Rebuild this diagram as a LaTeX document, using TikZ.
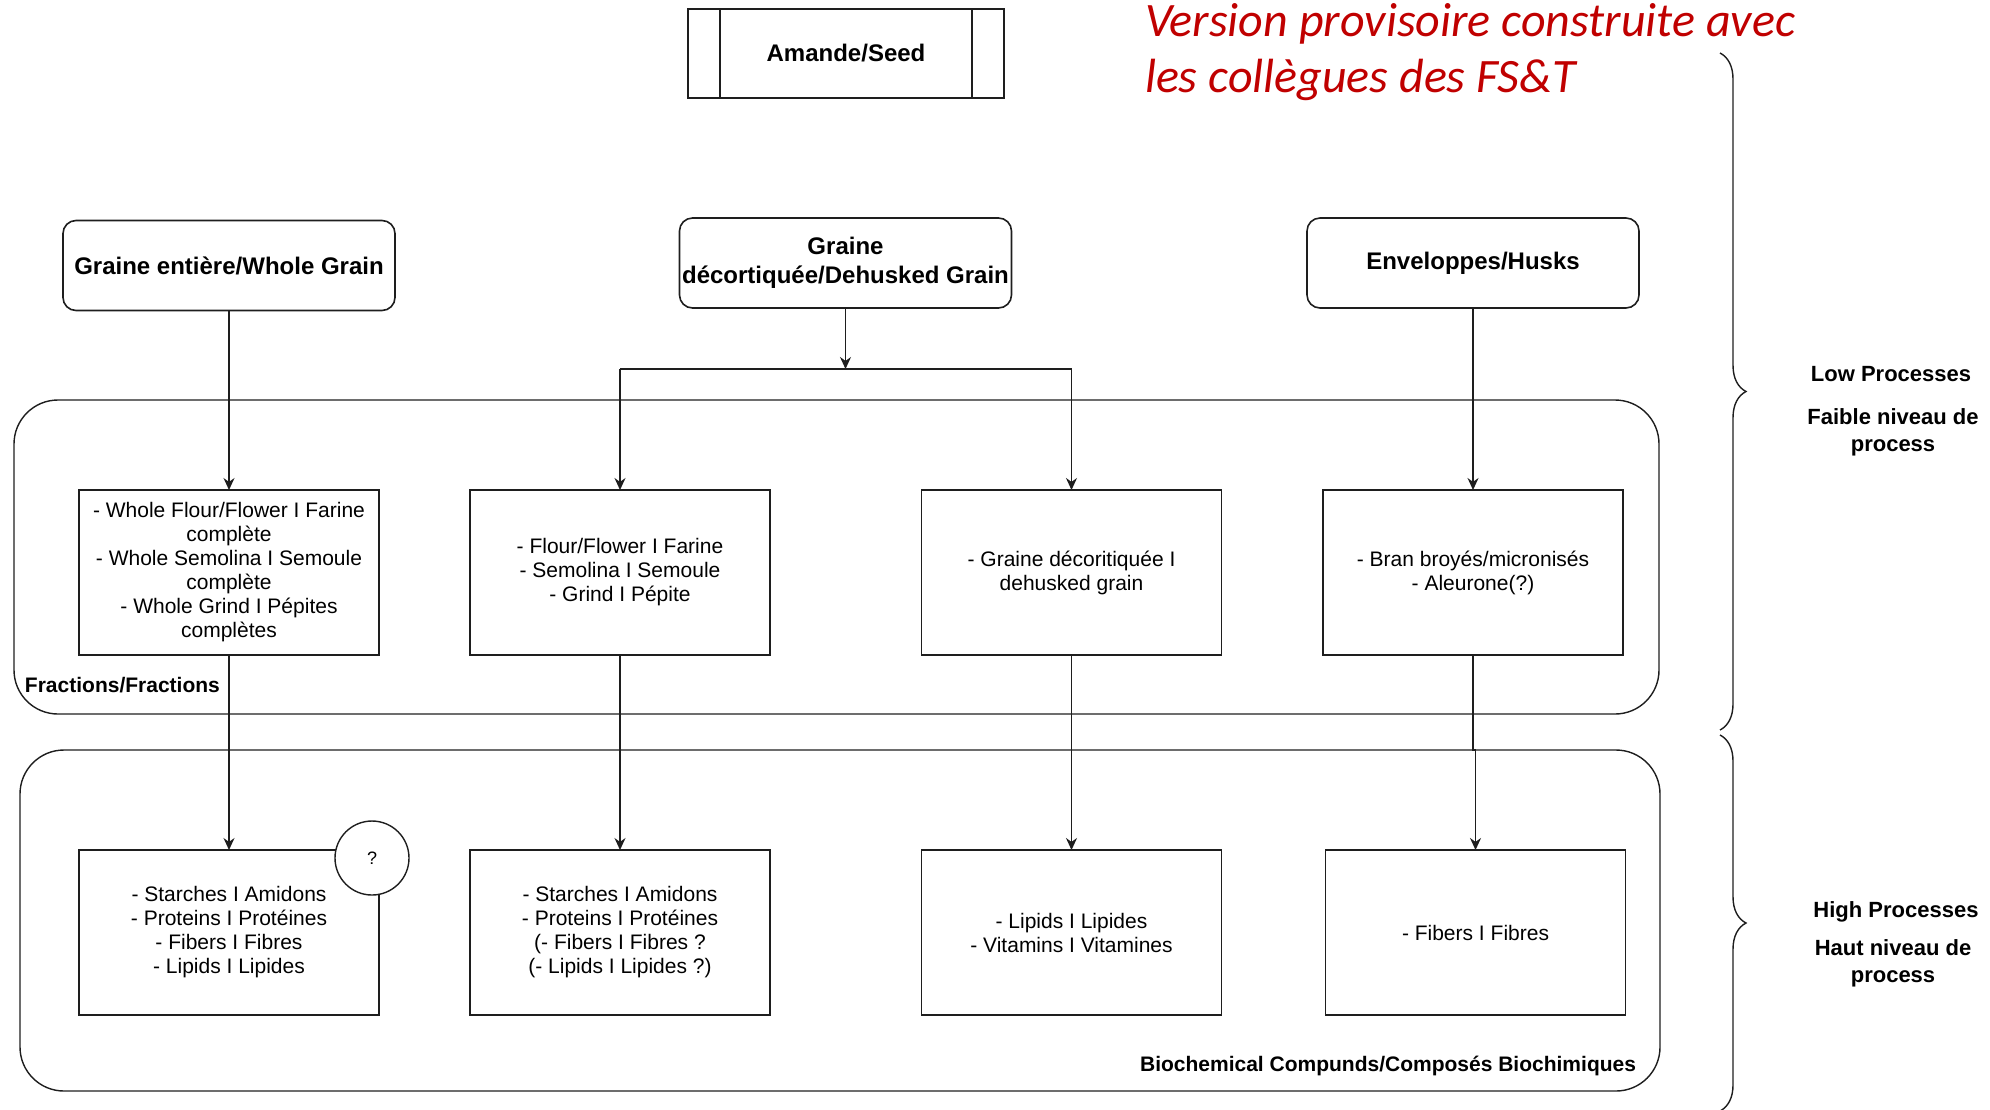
\documentclass[tikz,border=0pt]{standalone}
\usepackage{fontspec}
\setmainfont{Liberation Sans}
\newfontfamily\notefont{Carlito}
\usetikzlibrary{arrows.meta,decorations.pathreplacing}
\definecolor{noteRed}{RGB}{192,0,0}
\definecolor{ink}{RGB}{30,30,30}

\begin{document}
\begin{tikzpicture}[x=0.5pt,y=-0.5pt,
  every node/.style={inner sep=0pt, outer sep=0pt},
  title/.style={draw=ink, line width=0.8pt, rounded corners=6.5pt, minimum width=166pt, minimum height=45pt, align=center, font=\bfseries\fontsize{12}{14.5}\selectfont},
  item/.style={draw=ink, line width=0.7pt, minimum width=150pt, minimum height=82.5pt, align=center, font=\fontsize{10.5}{12}\selectfont},
  zone/.style={draw=ink, line width=0.7pt, rounded corners=22pt},
  arr/.style={draw=ink, line width=0.7pt, -{Stealth[length=6pt,width=5.5pt]}},
  link/.style={draw=ink, line width=0.7pt},
  tag/.style={font=\bfseries\fontsize{10.5}{12}\selectfont},
  side/.style={align=center, font=\bfseries\fontsize{11}{13.5}\selectfont},
  bracket/.style={draw=ink, line width=0.7pt, decorate, decoration={brace, amplitude=13pt}},
  note/.style={anchor=base west, text=noteRed, font=\notefont\itshape\fontsize{24}{27.5}\selectfont},
]
\clip (0,0) rectangle (1990,1109);

% level frames
\node[zone, minimum width=822.5pt, minimum height=157pt] (frac) at (836.5,557) {};
\node[zone, minimum width=820pt, minimum height=170.5pt] (bio) at (840,920.5) {};
\node[tag, anchor=west] (fractag) at (25,685) {Fractions/Fractions};
\node[tag, anchor=east] (biotag) at (1636,1066) {Biochemical Compunds/Composés Biochimiques};

% source
\node[draw=ink, line width=0.8pt, minimum width=158pt, minimum height=44.5pt, font=\bfseries\fontsize{12}{14}\selectfont] (seed) at (846,53.5) {Amande/Seed};
\draw[ink, line width=0.8pt] ([xshift=16pt]seed.north west) -- ([xshift=16pt]seed.south west);
\draw[ink, line width=0.8pt] ([xshift=-16pt]seed.north east) -- ([xshift=-16pt]seed.south east);

\node[note] (note1) at (1145,36) {Version provisoire construite avec};
\node[note] (note2) at (1145,92) {les collègues des FS\&T};

% grain types
\node[title] (whole) at (229,265.5) {Graine entière/Whole Grain};
\node[title] (dehusk) at (845.5,263) {Graine\\décortiquée/Dehusked Grain};
\node[title] (husk) at (1473,263) {Enveloppes/Husks};

% fractions
\node[item] (f1) at (229,572.5) {- Whole Flour/Flower I Farine\\complète\\- Whole Semolina I Semoule\\complète\\- Whole Grind I Pépites\\complètes};
\node[item] (f2) at (620,572.5) {- Flour/Flower I Farine\\- Semolina I Semoule\\- Grind I Pépite};
\node[item] (f3) at (1071.5,572.5) {- Graine décoritiquée I\\dehusked grain};
\node[item] (f4) at (1473,572.5) {- Bran broyés/micronisés\\- Aleurone(?)};

% compounds
\node[item] (c1) at (229,932.5) {- Starches I Amidons\\- Proteins I Protéines\\- Fibers I Fibres\\- Lipids I Lipides};
\node[item] (c2) at (620,932.5) {- Starches I Amidons\\- Proteins I Protéines\\(- Fibers I Fibres ?\\(- Lipids I Lipides ?)};
\node[item] (c3) at (1071.5,932.5) {- Lipids I Lipides\\- Vitamins I Vitamines};
\node[item] (c4) at (1475.5,932.5) {- Fibers I Fibres};
\node[circle, draw=ink, fill=white, line width=0.7pt, minimum size=37pt, font=\fontsize{9}{10}\selectfont] (q) at (372,858) {?};

% connectors
\coordinate (split) at (845.5,369);
\coordinate (splitL) at (620,369);
\coordinate (splitR) at (1071.5,369);
\draw[arr] (whole) -- (f1);
\draw[arr] (dehusk) -- (split);
\draw[link] (splitL) -- (splitR);
\draw[arr] (splitL) -- (f2);
\draw[arr] (splitR) -- (f3);
\draw[arr] (husk) -- (f4);
\draw[arr] (f1) -- (c1);
\draw[arr] (f2) -- (c2);
\draw[arr] (f3) -- (c3);
\draw[arr] (f4.south) -- (f4.south |- bio.north) -| (c4.north);

% processing levels
\draw[bracket] (1720,53) -- (1720,730);
\draw[bracket] (1720,735) -- (1720,1111);
\node[side] (low) at (1891,374) {Low Processes};
\node[side] (lowfr) at (1893,432) {Faible niveau de\\process};
\node[side] (high) at (1896,912) {High Processes};
\node[side] (highfr) at (1893,963) {Haut niveau de\\process};
\end{tikzpicture}
\end{document}
